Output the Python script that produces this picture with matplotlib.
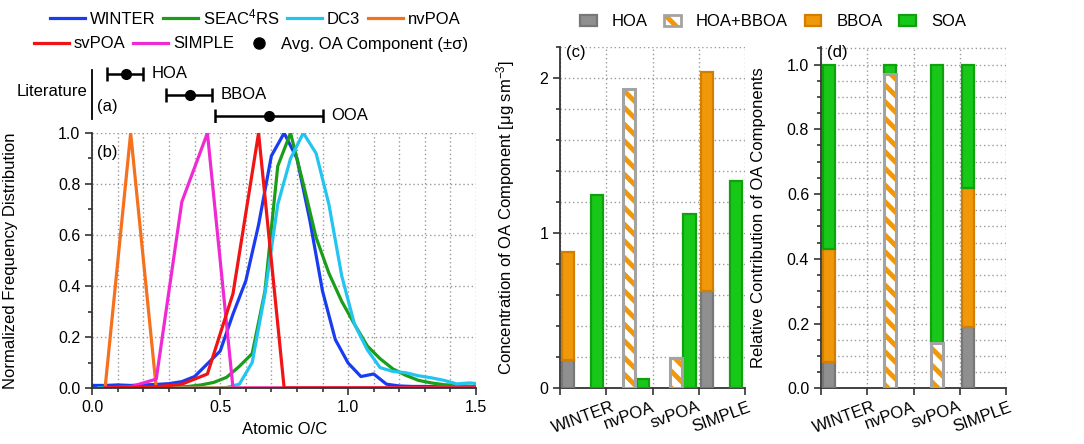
import numpy as np
import matplotlib
matplotlib.use("Agg")
from matplotlib import pyplot as plt
from matplotlib.lines import Line2D
from matplotlib.patches import Patch
from matplotlib.ticker import MultipleLocator

plt.rcParams["font.family"] = ["Liberation Sans", "DejaVu Sans"]
plt.rcParams["mathtext.fontset"] = "custom"
plt.rcParams["mathtext.rm"] = "Liberation Sans"
plt.rcParams["mathtext.it"] = "Liberation Sans:italic"
plt.rcParams["font.size"] = 12
plt.rcParams["hatch.linewidth"] = 3.5

# ---- (a) literature O/C of OA components
lit_names = ["HOA", "BBOA", "OOA"]
lit_mean = [0.13, 0.38, 0.69]
lit_low = [0.056, 0.288, 0.48]
lit_high = [0.199, 0.468, 0.90]

# ---- (b) O/C frequency distributions
x_winter = [0.00, 0.05, 0.10, 0.15, 0.20, 0.25, 0.30, 0.35, 0.40, 0.45, 0.50,
            0.55, 0.60, 0.65, 0.70, 0.75, 0.80, 0.85, 0.90, 0.95, 1.00, 1.05,
            1.10, 1.15, 1.20, 1.25, 1.30, 1.35, 1.40, 1.45, 1.50]
winter = [0.010, 0.010, 0.012, 0.010, 0.012, 0.014, 0.017, 0.025, 0.045, 0.095, 0.145,
          0.29, 0.42, 0.64, 0.91, 1.00, 0.90, 0.66, 0.38, 0.19, 0.098, 0.045,
          0.055, 0.015, 0.008, 0.006, 0.006, 0.005, 0.005, 0.005, 0.005]

x_fine = [0.025, 0.075, 0.125, 0.175, 0.225, 0.275, 0.325, 0.375, 0.425, 0.475,
          0.525, 0.575, 0.625, 0.675, 0.725, 0.775, 0.825, 0.875, 0.925, 0.975,
          1.025, 1.075, 1.125, 1.175, 1.225, 1.275, 1.325, 1.375, 1.425, 1.475, 1.525]
seac4rs = [0.0, 0.0, 0.0, 0.0, 0.0, 0.001, 0.003, 0.006, 0.012, 0.022,
           0.042, 0.085, 0.135, 0.38, 0.87, 1.00, 0.80, 0.59, 0.45, 0.34,
           0.25, 0.165, 0.115, 0.075, 0.05, 0.03, 0.02, 0.013, 0.01, 0.007, 0.005]
dc3 = [0.0, 0.0, 0.0, 0.0, 0.0, 0.0, 0.0, 0.0, 0.0, 0.0,
       0.002, 0.015, 0.10, 0.37, 0.72, 0.90, 1.00, 0.92, 0.72, 0.44,
       0.25, 0.15, 0.08, 0.065, 0.06, 0.048, 0.04, 0.03, 0.016, 0.02, 0.015]

x_coarse = [0.05, 0.15, 0.25, 0.35, 0.45, 0.55, 0.65, 0.75, 0.85, 0.95,
            1.05, 1.15, 1.25, 1.35, 1.45, 1.55]
nvpoa = [0.0, 1.0, 0.0, 0.0, 0.0, 0.0, 0.0, 0.0, 0.0, 0.0, 0.0, 0.0, 0.0, 0.0, 0.0, 0.0]
svpoa = [0.0, 0.003, 0.005, 0.015, 0.055, 0.37, 1.0, 0.0, 0.0, 0.0, 0.0, 0.0, 0.0, 0.0, 0.0, 0.0]
simple = [0.0, 0.005, 0.035, 0.73, 1.0, 0.0, 0.0, 0.0, 0.0, 0.0, 0.0, 0.0, 0.0, 0.0, 0.0, 0.0]

# ---- (c), (d) OA components
categories = ["WINTER", "nvPOA", "svPOA", "SIMPLE"]
conc_hoa = [0.18, 0.0, 0.0, 0.625]
conc_bboa = [0.70, 0.0, 0.0, 1.41]
conc_mixed = [0.0, 1.925, 0.195, 0.0]
conc_soa = [1.243, 0.06, 1.125, 1.333]

frac_hoa = [0.08, 0.0, 0.0, 0.19]
frac_bboa = [0.35, 0.0, 0.0, 0.43]
frac_mixed = [0.0, 0.97, 0.14, 0.0]
frac_soa = [0.57, 0.03, 0.86, 0.38]

# colours
c_blue = "#1a3cf0"
c_green = "#1a9e1a"
c_cyan = "#22c4f0"
c_orange = "#f5711e"
c_red = "#f01414"
c_magenta = "#f02ad2"
hoa_face, hoa_edge = "#8f8f8f", "#777777"
bboa_face, bboa_edge = "#f0980a", "#d27f00"
soa_face, soa_edge = "#18c818", "#10a010"
mixed_edge = "#a3a3a3"
spine_col = "#333333"
grid_kw = dict(color="#9a9a9a", linestyle=(0, (1, 2)), linewidth=1.0)

W, H = 1084, 444
fig = plt.figure(figsize=(W / 100, H / 100), dpi=100)


def frame(l, t, r, b):
    return [l / W, 1 - b / H, (r - l) / W, (b - t) / H]


ax_a = fig.add_axes(frame(92.3, 66, 476, 122))
ax_b = fig.add_axes(frame(92.3, 133, 476, 388))
ax_c = fig.add_axes(frame(560, 46.7, 745, 388.3))
ax_d = fig.add_axes(frame(821, 46.7, 1006, 388.3))

# ---------------- (a)
rows = np.arange(len(lit_names))
mean = np.asarray(lit_mean)
xerr = [mean - np.asarray(lit_low), np.asarray(lit_high) - mean]
ax_a.errorbar(mean, rows, xerr=xerr, fmt="o", color="black", ms=7,
              elinewidth=1.8, capsize=5, capthick=1.8)
for name, hi, r in zip(lit_names, lit_high, rows):
    ax_a.annotate(name, (hi, r), xytext=(6, 0), textcoords="offset points",
                  va="center", ha="left", fontsize=12)
ax_a.set_xlim(0, 1.5)
ax_a.set_ylim(2.29, -0.38)
for s in ["top", "right", "bottom"]:
    ax_a.spines[s].set_visible(False)
ax_a.spines["left"].set_bounds(-0.19, 2.14)
ax_a.spines["left"].set_linewidth(1.3)
ax_a.set_xticks([])
ax_a.set_yticks([])
ax_a.patch.set_alpha(0)
ax_a.text(-0.014, 0.55, "Literature", transform=ax_a.transAxes,
          ha="right", va="center", fontsize=12)
ax_a.text(0.012, 0.27, "(a)", transform=ax_a.transAxes,
          ha="left", va="center", fontsize=12)

# ---------------- (b)
lw = 2.3
l_w, = ax_b.plot(x_winter, winter, color=c_blue, lw=lw)
l_s, = ax_b.plot(x_fine, seac4rs, color=c_green, lw=lw)
l_d, = ax_b.plot(x_fine, dc3, color=c_cyan, lw=lw)
l_n, = ax_b.plot(x_coarse, nvpoa, color=c_orange, lw=lw)
l_m, = ax_b.plot(x_coarse, simple, color=c_magenta, lw=lw)
l_r, = ax_b.plot(x_coarse, svpoa, color=c_red, lw=lw)
ax_b.set_xlim(0, 1.5)
ax_b.set_ylim(0, 1.0)
ax_b.xaxis.set_major_locator(MultipleLocator(0.5))
ax_b.xaxis.set_minor_locator(MultipleLocator(0.1))
ax_b.yaxis.set_major_locator(MultipleLocator(0.2))
ax_b.yaxis.set_minor_locator(MultipleLocator(0.1))
ax_b.xaxis.set_major_formatter(lambda v, p: f"{v:.1f}")
ax_b.yaxis.set_major_formatter(lambda v, p: f"{v:.1f}")
ax_b.grid(True, axis="x", which="both", **grid_kw)
ax_b.grid(True, axis="y", which="major", **grid_kw)
ax_b.set_xlabel("Atomic O/C", fontsize=12)
ax_b.set_ylabel("Normalized Frequency Distribution", fontsize=12)
ax_b.xaxis.set_label_coords(0.5, -0.133)
ax_b.yaxis.set_label_coords(-0.194, 0.5)
ax_b.text(0.012, 0.925, "(b)", transform=ax_b.transAxes, ha="left",
          va="center", fontsize=12)


def style(ax):
    for s in ["top", "right"]:
        ax.spines[s].set_visible(False)
    for s in ["left", "bottom"]:
        ax.spines[s].set_color(spine_col)
        ax.spines[s].set_linewidth(1.3)
    ax.tick_params(which="both", direction="out", color=spine_col,
                   labelsize=11.5, width=1.2)
    ax.tick_params(which="major", length=5)
    ax.tick_params(which="minor", length=3)
    ax.set_axisbelow(True)


style(ax_b)

# ---------------- (c), (d)
poa_offset = [0.18, 0.5, 0.5, 0.18]
soa_offset = [0.8, 0.8, 0.8, 0.8]
bw = 0.26
idx = np.arange(len(categories))
poa_x = idx + np.asarray(poa_offset)
soa_x = idx + np.asarray(soa_offset)


def bars(ax, x, h, bottom, face, edge):
    h = np.asarray(h)
    b = np.asarray(bottom)
    m = h > 0
    ax.bar(x[m], h[m], bw, bottom=b[m], color=face, edgecolor=edge,
           linewidth=1.6, zorder=3)


def mixed_bars(ax, x, h, bottom):
    h = np.asarray(h)
    b = np.asarray(bottom)
    m = h > 0
    ax.bar(x[m], h[m], bw, bottom=b[m], color="white", edgecolor=bboa_face,
           hatch="\\\\", linewidth=0, zorder=3)
    ax.bar(x[m], h[m], bw, bottom=b[m], fill=False, edgecolor=mixed_edge,
           linewidth=2.2, zorder=4)


zero = np.zeros(len(categories))
# (c) concentrations: POA bar and separate SOA bar
bars(ax_c, poa_x, conc_hoa, zero, hoa_face, hoa_edge)
bars(ax_c, poa_x, conc_bboa, conc_hoa, bboa_face, bboa_edge)
mixed_bars(ax_c, poa_x, conc_mixed, zero)
bars(ax_c, soa_x, conc_soa, zero, soa_face, soa_edge)

# (d) fractions stacked
fh = np.asarray(frac_hoa)
fb = np.asarray(frac_bboa)
fm = np.asarray(frac_mixed)
bars(ax_d, poa_x, fh, zero, hoa_face, hoa_edge)
bars(ax_d, poa_x, fb, fh, bboa_face, bboa_edge)
mixed_bars(ax_d, poa_x, fm, zero)
bars(ax_d, poa_x, frac_soa, fh + fb + fm, soa_face, soa_edge)

for ax in (ax_c, ax_d):
    ax.set_xlim(0, 4)
    ax.set_xticks(np.arange(5))
    ax.set_xticklabels([])
    ax.set_xticks(idx + 0.5, labels=categories, minor=True)
    style(ax)
    ax.tick_params(axis="x", which="minor", length=0, pad=8, labelsize=12,
                   labelrotation=20)
    ax.grid(True, axis="x", which="major", **grid_kw)
    ax.grid(True, axis="y", which="both", **grid_kw)

ax_c.set_ylim(0, 2.2)
ax_c.yaxis.set_major_locator(MultipleLocator(1))
ax_c.yaxis.set_minor_locator(MultipleLocator(0.2))
ax_c.set_ylabel("Concentration of OA Component [μg sm$^{-3}$]", fontsize=12)
ax_c.yaxis.set_label_coords(-0.232, 0.5)
ax_c.text(0.035, 0.982, "(c)", transform=ax_c.transAxes, ha="left",
          va="center", fontsize=12)

ax_d.set_ylim(0, 1.055)
ax_d.yaxis.set_major_locator(MultipleLocator(0.2))
ax_d.yaxis.set_minor_locator(MultipleLocator(0.05))
ax_d.yaxis.set_major_formatter(lambda v, p: f"{v:.1f}")
ax_d.set_ylabel("Relative Contribution of OA Components", fontsize=12)
ax_d.yaxis.set_label_coords(-0.30, 0.5)
ax_d.text(0.035, 0.982, "(d)", transform=ax_d.transAxes, ha="left",
          va="center", fontsize=12)

# ---------------- legends
leg_kw = dict(frameon=False, fontsize=12, borderpad=0, handletextpad=0.3,
              columnspacing=0.45, handlelength=2.1)
fig.legend([l_w, l_s, l_d, l_n], ["WINTER", "SEAC$^4$RS", "DC3", "nvPOA"],
           loc="center", bbox_to_anchor=(255 / W, 1 - 17 / H), ncol=4, **leg_kw)
dot = Line2D([], [], marker="o", color="black", ls="none", ms=8)
fig.legend([l_r, l_m, dot], ["svPOA", "SIMPLE", "Avg. OA Component (±σ)"],
           loc="center", bbox_to_anchor=(251 / W, 1 - 44 / H), ncol=3, **leg_kw)

h_hoa = Patch(facecolor=hoa_face, edgecolor=hoa_edge, linewidth=1.6)
h_mix = (Patch(facecolor="white", edgecolor=bboa_face, hatch="\\\\", linewidth=0),
         Patch(fill=False, edgecolor=mixed_edge, linewidth=2))
h_bboa = Patch(facecolor=bboa_face, edgecolor=bboa_edge, linewidth=1.6)
h_soa = Patch(facecolor=soa_face, edgecolor=soa_edge, linewidth=1.6)
fig.legend([h_hoa, h_mix, h_bboa, h_soa], ["HOA", "HOA+BBOA", "BBOA", "SOA"],
           loc="center", bbox_to_anchor=(773 / W, 1 - 22 / H), ncol=4,
           frameon=False, fontsize=12, borderpad=0, handletextpad=0.9,
           columnspacing=1.0, handlelength=1.0, handleheight=0.7)

fig.savefig("out.png", dpi=100)
